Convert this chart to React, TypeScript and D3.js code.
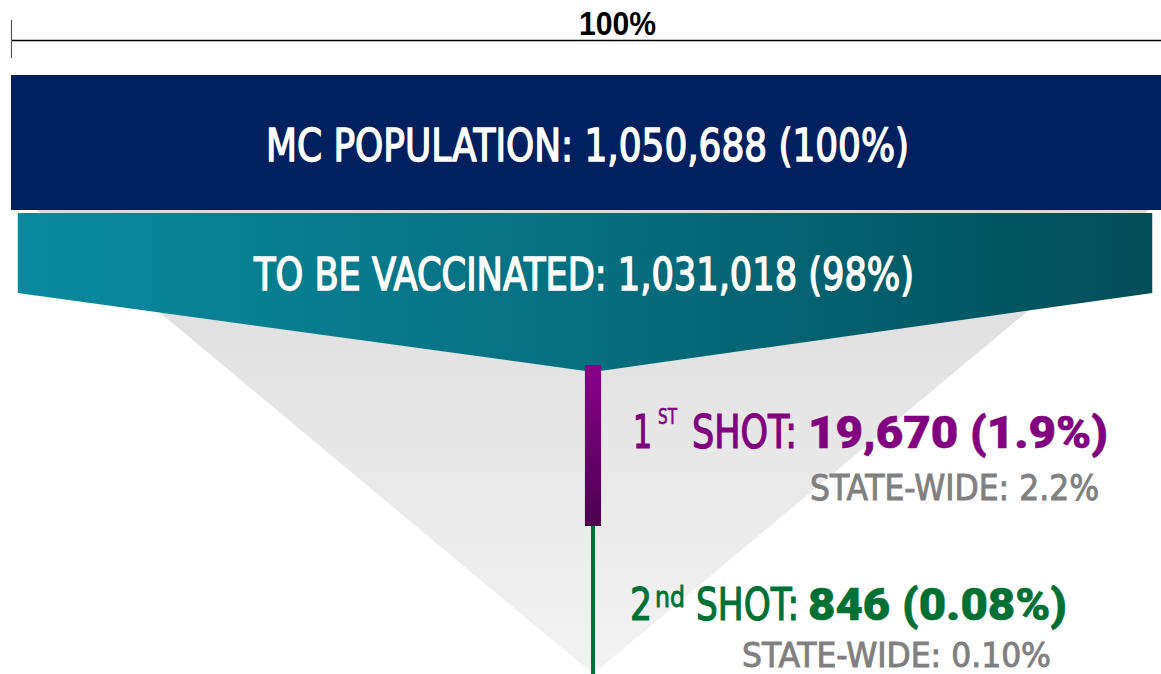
import React, { useEffect, useRef } from 'react';
import * as d3 from 'd3';

// funnel data
const stageNames = ['MC POPULATION', 'TO BE VACCINATED', 'SHOT', 'SHOT'];
const stageCounts = [1050688, 1031018, 19670, 846];
const stageShares = ['100%', '98%', '1.9%', '0.08%'];
const shotOrdinals = ['', '', '1', '2'];
const shotSuffixes = ['', '', 'ST', 'nd'];
const stateWide = ['', '', '2.2%', '0.10%'];
const scaleLabel = '100%';

const W = 1161;
const H = 674;
const condensed = '"DejaVu Sans Condensed", "Liberation Sans Narrow", "Roboto Condensed", "Liberation Sans", Arial, sans-serif';
const heavy = 'Roboto, "DejaVu Sans", "Liberation Sans", Arial, sans-serif';

const fmt = d3.format(',');

const App = () => {
    const ref = useRef<SVGSVGElement | null>(null);

    useEffect(() => {
        if (!ref.current) return;
        const svg = d3.select(ref.current);
        svg.selectAll('*').remove();

        const left = 11;
        const x = d3.scaleLinear().domain([0, stageCounts[0]]).range([0, 1150]);
        const navyCx = left + x(stageCounts[0]) / 2;
        const stemX = 593;

        const defs = svg.append('defs');
        const g1 = defs.append('linearGradient').attr('id', 'teal').attr('x1', 0).attr('x2', 1).attr('y1', 0).attr('y2', 0);
        g1.append('stop').attr('offset', '0%').attr('stop-color', '#0b8a9f');
        g1.append('stop').attr('offset', '50%').attr('stop-color', '#066f80');
        g1.append('stop').attr('offset', '100%').attr('stop-color', '#014d58');
        const g2 = defs.append('linearGradient').attr('id', 'shadow').attr('x1', 0).attr('x2', 0).attr('y1', 0).attr('y2', 1);
        g2.append('stop').attr('offset', '0%').attr('stop-color', '#dbdbdb');
        g2.append('stop').attr('offset', '100%').attr('stop-color', '#f3f3f3');
        const g3 = defs.append('linearGradient').attr('id', 'purple').attr('x1', 0).attr('x2', 0).attr('y1', 0).attr('y2', 1);
        g3.append('stop').attr('offset', '0%').attr('stop-color', '#88008a');
        g3.append('stop').attr('offset', '100%').attr('stop-color', '#4b004f');

        // top scale bar
        svg.append('line')
            .attr('x1', left).attr('x2', left + x(stageCounts[0]))
            .attr('y1', 40.5).attr('y2', 40.5)
            .attr('stroke', '#000').attr('stroke-width', 1.5);
        svg.append('line')
            .attr('x1', left + 0.5).attr('x2', left + 0.5)
            .attr('y1', 20).attr('y2', 58)
            .attr('stroke', '#555').attr('stroke-width', 1.2);
        svg.append('text')
            .attr('x', 579).attr('y', 35)
            .attr('textLength', 77).attr('lengthAdjust', 'spacingAndGlyphs')
            .style('font-family', '"Liberation Sans", Arial, sans-serif')
            .style('font-weight', 'bold').style('font-size', '34px')
            .attr('fill', '#000')
            .text(scaleLabel);

        // gray funnel shadow
        const shadowHalf = 556;
        const line = d3.line();
        svg.append('path')
            .attr('d', line([[stemX - shadowHalf, 210], [stemX + shadowHalf, 210], [stemX, H]]) + 'Z')
            .attr('fill', 'url(#shadow)');

        // stage 1 – navy block
        svg.append('rect')
            .attr('x', left).attr('y', 75)
            .attr('width', x(stageCounts[0])).attr('height', 135)
            .attr('fill', '#002060');

        // stage 2 – teal funnel segment
        const tw = x(stageCounts[1]);
        const tcx = navyCx - 1;
        svg.append('path')
            .attr('d', line([
                [tcx - tw / 2 - 3, 213], [tcx + tw / 2 + 3, 213],
                [tcx + tw / 2 + 3, 293], [stemX, 372], [tcx - tw / 2 - 3, 293]
            ]) + 'Z')
            .attr('fill', 'url(#teal)');

        // stage 4 – green stem
        const gw = Math.max(4, x(stageCounts[3]));
        svg.append('rect')
            .attr('x', stemX - gw / 2).attr('y', 526)
            .attr('width', gw).attr('height', H - 526)
            .attr('fill', '#00703a');

        // stage 3 – purple bar
        const pw = x(stageCounts[2]) * 0.75;
        svg.append('rect')
            .attr('x', stemX - pw / 2).attr('y', 365)
            .attr('width', pw).attr('height', 161)
            .attr('fill', 'url(#purple)');

        // condensed labels: regular face with a thin outline for a medium weight
        const txt = (px: number, py: number, len: number, size: number, fill: string, s: string, family = condensed, weight = 'normal', outline = 1.2) =>
            svg.append('text')
                .attr('x', px).attr('y', py)
                .attr('textLength', len).attr('lengthAdjust', 'spacingAndGlyphs')
                .style('font-family', family).style('font-size', `${size}px`)
                .style('font-weight', weight)
                .attr('fill', fill)
                .attr('stroke', fill).attr('stroke-width', outline)
                .text(s);

        txt(266, 161, 643, 45, '#fff', `${stageNames[0]}: ${fmt(stageCounts[0])} (${stageShares[0]})`, condensed, 'normal', 1.4);
        txt(254, 290, 660, 45, '#fff', `${stageNames[1]}: ${fmt(stageCounts[1])} (${stageShares[1]})`, condensed, 'normal', 1.4);

        // 1st shot
        const purple = '#800080';
        txt(633, 448, 19, 46, purple, shotOrdinals[2]);
        txt(658, 424, 19, 22, purple, shotSuffixes[2], condensed, 'normal', 0.6);
        txt(692, 448, 105, 46, purple, `${stageNames[2]}:`);
        txt(808, 448, 300, 45, purple, `${fmt(stageCounts[2])} (${stageShares[2]})`, heavy, '900', 0.6);
        txt(810, 500, 289, 36, '#808080', `STATE-WIDE: ${stateWide[2]}`, condensed, 'normal', 0.9);

        // 2nd shot
        const green = '#007033';
        txt(630, 620, 22, 45, green, shotOrdinals[3]);
        txt(655, 607, 30, 29, green, shotSuffixes[3], condensed, 'normal', 0.8);
        txt(696, 620, 103, 45, green, `${stageNames[3]}:`);
        txt(808, 620, 259, 45, green, `${fmt(stageCounts[3])} (${stageShares[3]})`, heavy, '900', 0.6);
        txt(742, 667, 309, 34, '#808080', `STATE-WIDE: ${stateWide[3]}`, condensed, 'normal', 0.9);
    }, []);

    return (
        <svg ref={ref} width={W} height={H}
            style={{ position: 'absolute', left: 0, top: 0, background: '#fff' }} />
    );
};

export default App;
